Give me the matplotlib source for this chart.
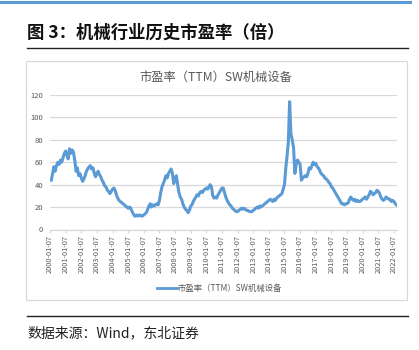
import numpy as np
import pandas as pd
import matplotlib
matplotlib.use('Agg')
import matplotlib.pyplot as plt
import matplotlib.dates as mdates
from matplotlib.lines import Line2D
from matplotlib.patches import Rectangle

plt.rcParams['font.family'] = ['Noto Sans CJK SC', 'DejaVu Sans']

# monthly PE (TTM) readings, SW machinery index, Jan 2000 - Mar 2022
pe_2000 = [44, 50, 56, 52, 57, 60, 58, 62, 60, 64, 68, 70]
pe_2001 = [66, 63, 72, 68, 71, 69, 62, 52, 55, 48, 50, 46]
pe_2002 = [43, 45, 48, 52, 54, 56, 57, 54, 55, 50, 47, 50]
pe_2003 = [52, 49, 47, 44, 42, 39, 38, 35, 34, 32, 34, 36]
pe_2004 = [37, 35, 31, 28, 26, 25, 24, 23, 22, 21, 20, 19]
pe_2005 = [20, 19, 16, 14, 12, 12, 13, 12, 13, 12, 12, 13]
pe_2006 = [14, 15, 18, 21, 23, 20, 22, 21, 22, 23, 22, 26]
pe_2007 = [33, 38, 41, 44, 48, 46, 50, 52, 54, 50, 41, 46]
pe_2008 = [48, 40, 33, 29, 27, 23, 20, 18, 17, 15, 17, 21]
pe_2009 = [22, 25, 27, 29, 31, 30, 33, 34, 33, 35, 36, 37]
pe_2010 = [36, 38, 40, 38, 30, 28, 29, 28, 31, 33, 35, 37]
pe_2011 = [37, 33, 29, 26, 24, 22, 21, 19, 18, 17, 16, 16]
pe_2012 = [17, 18, 19, 18, 19, 18, 17, 17, 16, 16, 16, 17]
pe_2013 = [18, 19, 20, 19, 21, 20, 21, 22, 23, 24, 25, 26]
pe_2014 = [27, 26, 25, 27, 26, 28, 29, 30, 31, 32, 36, 40]
pe_2015 = [55, 65, 78, 114, 85, 80, 73, 50, 58, 62, 60, 58]
pe_2016 = [44, 46, 47, 48, 47, 50, 55, 54, 57, 60, 58, 59]
pe_2017 = [56, 55, 53, 50, 49, 48, 46, 45, 44, 42, 41, 38]
pe_2018 = [37, 35, 33, 31, 29, 27, 25, 23, 23, 22, 23, 23]
pe_2019 = [24, 27, 29, 27, 26, 27, 25, 26, 25, 25, 26, 27]
pe_2020 = [28, 29, 27, 29, 31, 34, 33, 31, 32, 33, 35, 34]
pe_2021 = [32, 29, 27, 26, 27, 29, 28, 27, 27, 25, 26, 25]
pe_2022 = [23, 22, 21]

pe = (pe_2000 + pe_2001 + pe_2002 + pe_2003 + pe_2004 + pe_2005 + pe_2006
      + pe_2007 + pe_2008 + pe_2009 + pe_2010 + pe_2011 + pe_2012 + pe_2013
      + pe_2014 + pe_2015 + pe_2016 + pe_2017 + pe_2018 + pe_2019 + pe_2020
      + pe_2021 + pe_2022)
dates = pd.date_range('2000-01-07', periods=len(pe), freq='MS') + pd.Timedelta(days=6)

tick_labels = ['%d-01-07' % y for y in range(2000, 2023)]
tick_dates = pd.to_datetime(tick_labels)

series_name = '市盈率（TTM）SW机械设备'
blue = '#5b9bd5'
gray_text = '#595959'
grid_gray = '#d9d9d9'

W, H = 419, 350
fig = plt.figure(figsize=(W / 100, H / 100), dpi=100)

def fx(px):
    return px / W

def fy(py):
    return 1 - py / H

# page decorations: top rule, caption, rules
fig.add_artist(Line2D([0, fx(410)], [fy(2), fy(2)], color=blue, lw=2.2))
fig.text(fx(27), fy(33), '图 3：机械行业历史市盈率（倍）', fontsize=12.5,
         fontweight='bold', va='center', ha='left', color='#111111')
fig.add_artist(Line2D([fx(27), fx(408)], [fy(48), fy(48)], color='#222222', lw=1.0))
fig.add_artist(Rectangle((fx(26), fy(300)), fx(407) - fx(26), fy(61) - fy(300),
                         fill=False, ec=grid_gray, lw=0.9))
fig.add_artist(Line2D([fx(27), fx(408)], [fy(316), fy(316)], color='#222222', lw=1.0))
fig.text(fx(27), fy(333), '数据来源：Wind，东北证券', fontsize=10,
         va='center', ha='left', color='#222222')

# chart title
fig.text(fx(216), fy(77), series_name, fontsize=8.8, va='center', ha='center',
         color=gray_text)

ax = fig.add_axes([fx(50), fy(229.5), fx(397) - fx(50), fy(95) - fy(229.5)])
ax.plot(dates, pe, color=blue, lw=2.2, solid_joinstyle='round')
ax.set_ylim(0, 120)
ax.set_yticks(range(0, 121, 20))
ax.set_xlim(pd.Timestamp('2000-01-07'), pd.Timestamp('2022-03-20'))
ax.set_xticks(tick_dates)
ax.set_xticklabels(tick_labels, rotation=90, fontsize=5.3, color=gray_text)
ax.tick_params(axis='y', length=0, labelsize=5.5, labelcolor=gray_text, pad=5)
ax.tick_params(axis='x', length=2.5, color=grid_gray, pad=1.5)
ax.grid(axis='y', color=grid_gray, lw=0.9)
ax.set_axisbelow(True)
for side in ['top', 'right', 'left']:
    ax.spines[side].set_visible(False)
ax.spines['bottom'].set_color(grid_gray)
ax.spines['bottom'].set_linewidth(0.9)

# last value label
ax.annotate(str(pe[-1]), (dates[-1], pe[-1]), xytext=(1, -1),
            textcoords='offset points', fontsize=5.5, fontweight='bold',
            color='#222222', va='center', ha='left')

# legend
fig.add_artist(Line2D([fx(157), fx(177)], [fy(288), fy(288)], color=blue, lw=2.0))
fig.text(fx(178), fy(288), series_name, fontsize=6, va='center', ha='left',
         color=gray_text)

fig.savefig('out.png', dpi=100)
